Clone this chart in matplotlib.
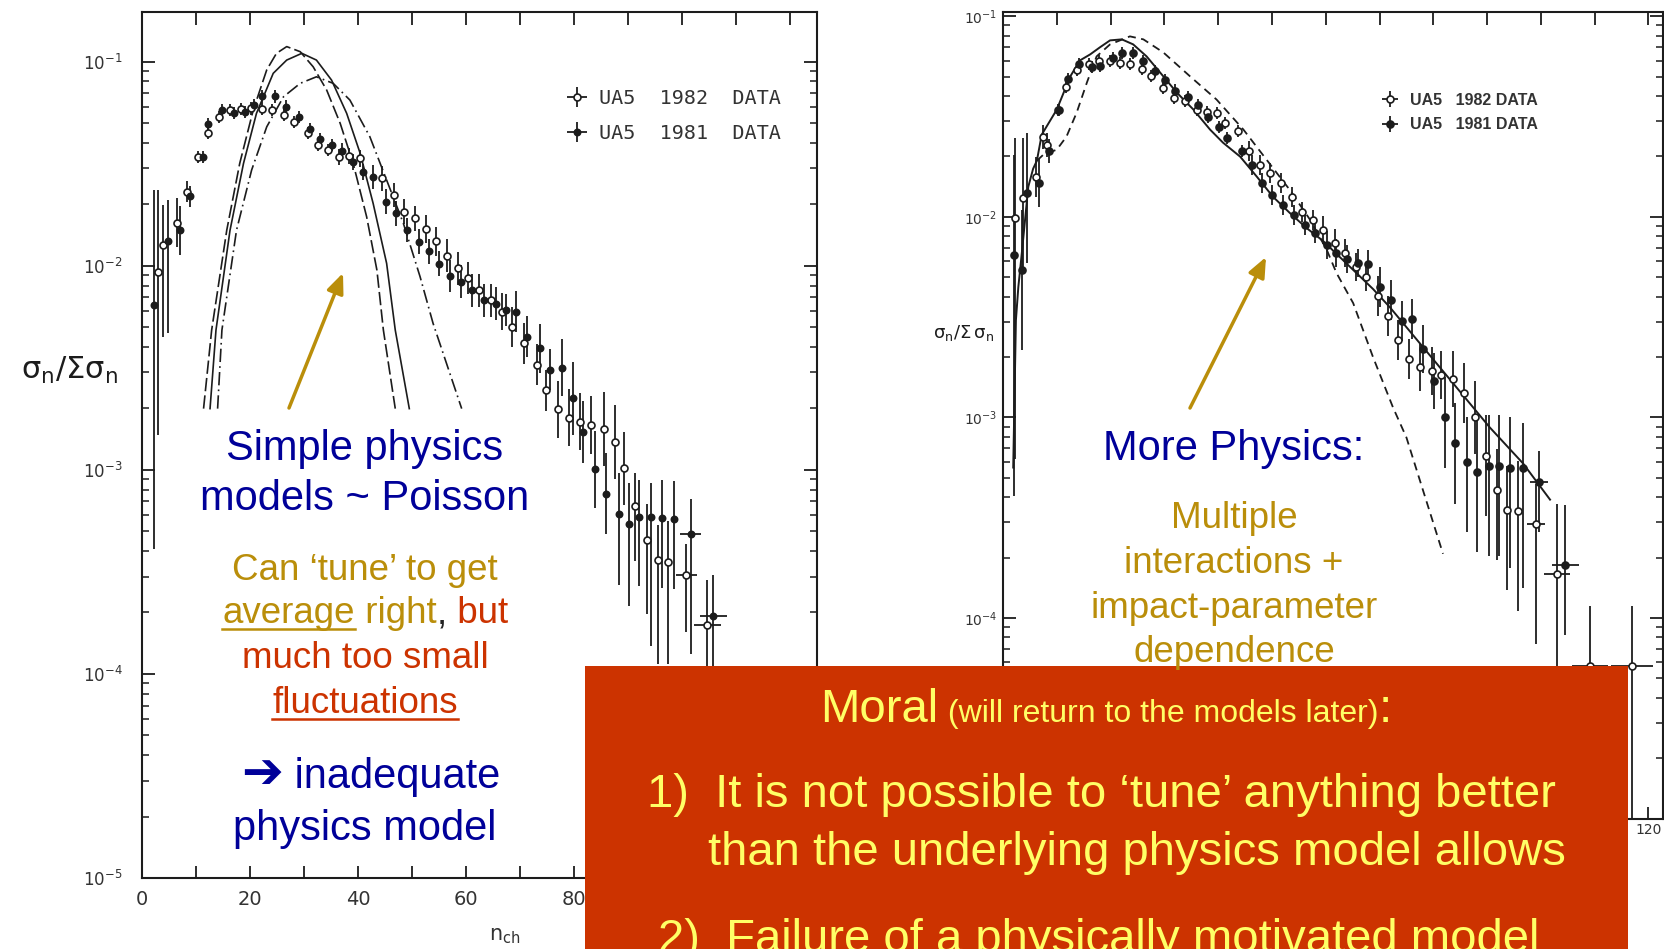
import numpy as np
import matplotlib
matplotlib.use("Agg")
import matplotlib.pyplot as plt
from matplotlib.patches import Rectangle, FancyArrowPatch
from matplotlib.lines import Line2D
from matplotlib.ticker import FixedLocator, LogLocator, NullFormatter, LogFormatterMathtext

W, H = 1664, 949
SLIDE = ["Liberation Sans", "DejaVu Sans"]
INK = "#1c1c1c"
BLUE, GOLD, RED, YEL, BOX = "#000099", "#BA8E0A", "#CC3300", "#FFFF66", "#CC3300"

X_LABELLED = [0, 20, 40, 60, 80, 100, 120]
X_MINOR = [10, 30, 50, 70, 90, 110]

# ---------------- left panel: UA5 data, values as log10(sigma_n / sum sigma_n) ----------------
L82_N = [2.9, 3.9, 6.4, 8.4, 10.3, 12.2, 14.2, 16.3, 18.4, 20.2, 22.2, 24.1, 26.3, 28.2, 30.7,
         32.5, 34.4, 36.4, 38.3, 40.4, 44.5, 46.6, 48.6, 50.6, 52.5, 54.4, 56.4, 58.6, 60.4, 62.5,
         64.7, 66.6, 68.6, 70.7, 73.1, 74.9, 77.1, 79.1, 81.1, 83.1, 85.5, 87.5, 89.2, 91.3, 93.5,
         95.5, 97.4, 100.8, 104.7]
L82_LOG = [-2.03, -1.90, -1.79, -1.637, -1.466, -1.351, -1.27, -1.237, -1.233, -1.229, -1.23, -1.237,
           -1.26, -1.294, -1.351, -1.408, -1.433, -1.466, -1.462, -1.474, -1.572, -1.653, -1.735,
           -1.768, -1.82, -1.88, -1.95, -2.013, -2.06, -2.12, -2.17, -2.225, -2.30, -2.38, -2.484,
           -2.61, -2.704, -2.745, -2.765, -2.78, -2.80, -2.863, -2.993, -3.177, -3.346, -3.44,
           -3.451, -3.514, -3.761]
L82_UP = [0.40, 0.20, 0.12, 0.05, 0.03, 0.03, 0.03, 0.03, 0.03, 0.03, 0.03, 0.03, 0.03, 0.03, 0.03,
          0.03, 0.03, 0.04, 0.04, 0.04, 0.06, 0.06, 0.06, 0.06, 0.07, 0.07, 0.08, 0.08, 0.08, 0.08,
          0.08, 0.09, 0.10, 0.10, 0.10, 0.10, 0.14, 0.14, 0.14, 0.14, 0.18, 0.18, 0.18, 0.16, 0.18,
          0.17, 0.20, 0.15, 0.22]
L82_DN = [0.80, 0.45, 0.12, 0.05, 0.03, 0.03, 0.03, 0.03, 0.03, 0.03, 0.03, 0.03, 0.03, 0.03, 0.03,
          0.03, 0.03, 0.04, 0.04, 0.04, 0.06, 0.06, 0.06, 0.06, 0.07, 0.07, 0.08, 0.08, 0.08, 0.08,
          0.08, 0.09, 0.10, 0.10, 0.10, 0.10, 0.14, 0.14, 0.14, 0.14, 0.18, 0.18, 0.18, 0.27, 0.36,
          0.51, 0.50, 0.28, 0.50]
L82_XERR = [0, 0, 0, 0, 0, 0, 0, 0, 0, 0, 0, 0, 0, 0, 0, 0, 0, 0, 0, 0, 0, 0, 0, 0, 0, 0, 0, 0, 0, 0,
            0, 0, 0, 0, 0, 0, 0, 0, 0, 0, 0, 0, 0, 0, 0, 0, 0, 1.9, 2.5]

L81_N = [2.3, 4.9, 7.0, 8.8, 11.3, 12.3, 14.8, 17.1, 19.0, 20.8, 22.3, 24.6, 26.6, 29.1, 31.1, 32.9,
         35.1, 37.1, 39.0, 40.9, 42.7, 45.2, 47.0, 49.1, 51.3, 53.1, 55.0, 57.0, 59.1, 61.1, 63.3,
         65.6, 67.5, 69.2, 71.3, 73.7, 75.6, 77.7, 79.8, 81.7, 83.9, 85.9, 88.3, 90.1, 92.1, 94.2,
         96.3, 98.5, 101.6, 105.8]
L81_LOG = [-2.19, -1.88, -1.825, -1.66, -1.466, -1.305, -1.237, -1.253, -1.245, -1.212, -1.17, -1.17,
           -1.22, -1.27, -1.33, -1.38, -1.41, -1.44, -1.49, -1.54, -1.564, -1.686, -1.743, -1.825,
           -1.882, -1.93, -1.99, -2.05, -2.078, -2.12, -2.17, -2.185, -2.217, -2.225, -2.348, -2.405,
           -2.51, -2.50, -2.65, -2.814, -2.998, -3.116, -3.214, -3.266, -3.23, -3.233, -3.238, -3.243,
           -3.312, -3.715]
L81_UP = [0.56, 0.20, 0.12, 0.05, 0.03, 0.03, 0.03, 0.03, 0.03, 0.03, 0.03, 0.03, 0.03, 0.03, 0.03,
          0.03, 0.03, 0.04, 0.04, 0.04, 0.06, 0.06, 0.06, 0.06, 0.06, 0.06, 0.06, 0.08, 0.08, 0.08,
          0.08, 0.08, 0.08, 0.10, 0.10, 0.12, 0.10, 0.14, 0.18, 0.15, 0.19, 0.20, 0.20, 0.20, 0.18,
          0.17, 0.19, 0.19, 0.17, 0.20]
L81_DN = [1.20, 0.45, 0.12, 0.05, 0.03, 0.03, 0.03, 0.03, 0.03, 0.03, 0.03, 0.03, 0.03, 0.03, 0.03,
          0.03, 0.03, 0.04, 0.04, 0.04, 0.06, 0.06, 0.06, 0.06, 0.06, 0.06, 0.06, 0.08, 0.08, 0.08,
          0.08, 0.08, 0.08, 0.10, 0.10, 0.12, 0.10, 0.14, 0.18, 0.15, 0.19, 0.20, 0.35, 0.40, 0.34,
          0.63, 0.34, 0.34, 0.59, 0.60]
L81_XERR = [0, 0, 0, 0, 0, 0, 0, 0, 0, 0, 0, 0, 0, 0, 0, 0, 0, 0, 0, 0, 0, 0, 0, 0, 0, 0, 0, 0, 0, 0,
            0, 0, 0, 0, 0, 0, 0, 0, 0, 0, 0, 0, 0, 0, 0, 0, 0, 0, 1.9, 2.5]

# Poisson-like model curves (cut off where the slide text begins)
LDASH_N = [11.4, 12.9, 15.7, 18.1, 20.6, 23.1, 24.9, 26.8, 29.3, 31.7, 34.2, 36.7, 39.1, 41.6, 43.5, 44.7, 46.9]
LDASH_LOG = [-2.70, -2.315, -1.825, -1.498, -1.237, -1.04, -0.959, -0.926, -0.951, -1.025, -1.139,
             -1.302, -1.498, -1.76, -2.021, -2.315, -2.70]
LSOLID_N = [12.6, 13.7, 16.3, 18.8, 21.2, 24.3, 26.8, 29.6, 32.3, 35.1, 37.9, 40.4, 42.8, 45.3, 46.9, 49.5]
LSOLID_LOG = [-2.70, -2.315, -1.826, -1.498, -1.253, -1.057, -0.992, -0.959, -0.992, -1.09, -1.253,
              -1.449, -1.694, -1.988, -2.315, -2.70]
LDD_N = [14.0, 14.8, 17.5, 20.3, 23.1, 26.2, 29.3, 32.3, 35.4, 38.5, 42.2, 45.3, 48.4, 51.5, 53.9, 59.2]
LDD_LOG = [-2.70, -2.315, -1.826, -1.531, -1.319, -1.172, -1.106, -1.074, -1.106, -1.188, -1.368,
           -1.58, -1.792, -2.054, -2.282, -2.70]

# ---------------- right panel ----------------
R82_N = [2.23, 3.78, 6.13, 7.37, 8.1, 10.3, 11.8, 13.7, 15.9, 17.9, 19.9, 21.7, 23.6, 25.8, 27.6,
         29.8, 31.7, 33.8, 36.0, 37.9, 39.7, 41.3, 43.7, 45.8, 47.8, 49.6, 51.6, 53.7, 55.5, 57.6,
         59.4, 61.7, 63.6, 65.6, 67.4, 69.7, 71.6, 73.5, 75.5, 77.5, 79.7, 81.5, 83.7, 85.7, 87.7,
         89.8, 91.8, 93.7, 95.8, 99.1, 103.0, 109.1, 116.9]
R82_LOG = [-2.007, -1.907, -1.80, -1.60, -1.64, -1.465, -1.35, -1.27, -1.24, -1.225, -1.225, -1.235,
           -1.24, -1.265, -1.30, -1.355, -1.405, -1.42, -1.465, -1.475, -1.48, -1.53, -1.57, -1.67,
           -1.74, -1.78, -1.83, -1.90, -1.975, -2.015, -2.065, -2.13, -2.18, -2.25, -2.30, -2.395,
           -2.495, -2.615, -2.71, -2.75, -2.77, -2.79, -2.81, -2.88, -3.00, -3.19, -3.36, -3.46,
           -3.465, -3.53, -3.78, -4.24, -4.24]
R82_UP = [0.40, 0.30, 0.10, 0.06, 0.06, 0.03, 0.03, 0.03, 0.03, 0.03, 0.03, 0.03, 0.03, 0.03, 0.03,
          0.03, 0.03, 0.03, 0.03, 0.03, 0.03, 0.03, 0.03, 0.05, 0.05, 0.05, 0.05, 0.05, 0.05, 0.05,
          0.07, 0.07, 0.07, 0.07, 0.07, 0.10, 0.10, 0.10, 0.10, 0.12, 0.12, 0.12, 0.14, 0.15, 0.18,
          0.20, 0.20, 0.22, 0.25, 0.20, 0.35, 0.30, 0.30]
R82_DN = [1.20, 0.35, 0.10, 0.06, 0.06, 0.03, 0.03, 0.03, 0.03, 0.03, 0.03, 0.03, 0.03, 0.03, 0.03,
          0.03, 0.03, 0.03, 0.03, 0.03, 0.03, 0.03, 0.03, 0.05, 0.05, 0.05, 0.05, 0.05, 0.05, 0.05,
          0.07, 0.07, 0.07, 0.07, 0.07, 0.10, 0.10, 0.10, 0.10, 0.12, 0.12, 0.12, 0.14, 0.15, 0.18,
          0.30, 0.35, 0.40, 0.50, 0.60, 0.70, 1.00, 1.00]
R82_XERR = [0, 0, 0, 0, 0, 0, 0, 0, 0, 0, 0, 0, 0, 0, 0, 0, 0, 0, 0, 0, 0, 0, 0, 0, 0, 0, 0, 0, 0, 0,
            0, 0, 0, 0, 0, 0, 0, 0, 0, 0, 0, 0, 0, 0, 0, 0, 0, 0, 0, 1.7, 2.5, 3.4, 3.9]

R81_N = [2.04, 3.47, 4.4, 6.75, 8.6, 10.5, 12.1, 14.2, 16.5, 18.0, 20.4, 22.1, 24.2, 26.1, 28.3,
         30.1, 32.0, 34.4, 36.3, 38.2, 40.2, 41.7, 44.4, 46.2, 48.1, 50.1, 52.0, 54.1, 56.1, 58.0,
         60.2, 62.0, 64.0, 66.0, 67.8, 70.1, 72.2, 74.1, 76.0, 78.0, 80.1, 82.2, 84.0, 86.3, 88.1,
         90.4, 92.2, 94.2, 96.6, 99.6, 104.5]
R81_LOG = [-2.19, -2.265, -1.88, -1.83, -1.67, -1.465, -1.315, -1.24, -1.255, -1.25, -1.21, -1.185,
           -1.185, -1.225, -1.275, -1.32, -1.37, -1.40, -1.44, -1.50, -1.55, -1.605, -1.67, -1.74,
           -1.83, -1.89, -1.94, -1.99, -2.04, -2.08, -2.14, -2.18, -2.21, -2.23, -2.235, -2.35,
           -2.415, -2.52, -2.51, -2.66, -2.82, -3.00, -3.13, -3.22, -3.27, -3.24, -3.24, -3.25,
           -3.25, -3.32, -3.735]
R81_UP = [0.50, 0.30, 0.30, 0.12, 0.06, 0.03, 0.03, 0.03, 0.03, 0.03, 0.03, 0.03, 0.03, 0.03, 0.03,
          0.03, 0.03, 0.03, 0.03, 0.03, 0.03, 0.03, 0.03, 0.05, 0.05, 0.05, 0.05, 0.05, 0.05, 0.05,
          0.07, 0.07, 0.07, 0.07, 0.07, 0.10, 0.10, 0.10, 0.10, 0.12, 0.14, 0.20, 0.20, 0.22, 0.25,
          0.25, 0.25, 0.25, 0.22, 0.15, 0.30]
R81_DN = [1.20, 0.40, 0.35, 0.12, 0.06, 0.03, 0.03, 0.03, 0.03, 0.03, 0.03, 0.03, 0.03, 0.03, 0.03,
          0.03, 0.03, 0.03, 0.03, 0.03, 0.03, 0.03, 0.03, 0.05, 0.05, 0.05, 0.05, 0.05, 0.05, 0.05,
          0.07, 0.07, 0.07, 0.07, 0.07, 0.10, 0.10, 0.10, 0.10, 0.12, 0.14, 0.25, 0.30, 0.35, 0.40,
          0.45, 0.45, 0.50, 0.60, 0.25, 0.35]
R81_XERR = [0, 0, 0, 0, 0, 0, 0, 0, 0, 0, 0, 0, 0, 0, 0, 0, 0, 0, 0, 0, 0, 0, 0, 0, 0, 0, 0, 0, 0, 0,
            0, 0, 0, 0, 0, 0, 0, 0, 0, 0, 0, 0, 0, 0, 0, 0, 0, 0, 0, 1.7, 2.5]

RSOLID_N = [1.9, 2.4, 2.85, 3.5, 4.1, 4.7, 5.6, 6.3, 7.2, 10.0, 12.5, 14.3, 16.2, 18.0, 19.9, 22.1,
            24.2, 26.7, 29.2, 32.3, 35.4, 38.5, 40.9, 44.1, 47.2, 50.2, 53.3, 56.4, 59.5, 62.6, 65.7,
            68.8, 71.9, 78.1, 84.3, 90.5, 96.7, 101.7]
RSOLID_LOG = [-3.25, -2.515, -2.35, -2.18, -2.015, -1.85, -1.76, -1.72, -1.59, -1.465, -1.30, -1.22,
              -1.19, -1.155, -1.12, -1.115, -1.14, -1.20, -1.28, -1.38, -1.465, -1.565, -1.63, -1.70,
              -1.80, -1.90, -1.98, -2.055, -2.12, -2.20, -2.28, -2.36, -2.45, -2.65, -2.85, -3.05,
              -3.23, -3.41]
RDASH_N = [6.3, 7.5, 10.0, 11.8, 13.7, 15.6, 17.4, 19.9, 23.6, 26.1, 29.8, 34.8, 39.7, 44.7, 49.0,
           53.3, 57.1, 60.2, 62.0, 65.1, 68.8, 72.5, 75.0, 78.1, 81.8]
RDASH_LOG = [-1.72, -1.69, -1.665, -1.60, -1.48, -1.33, -1.20, -1.14, -1.10, -1.115, -1.18, -1.30,
             -1.415, -1.565, -1.715, -1.865, -2.015, -2.165, -2.28, -2.43, -2.70, -2.95, -3.10,
             -3.365, -3.68]

fig = plt.figure(figsize=(W / 100, H / 100), dpi=100)
fig.patch.set_facecolor("white")


def fy(y):
    return 1 - y / H


def axes_px(x0, top, x1, bottom):
    return fig.add_axes([x0 / W, 1 - bottom / H, (x1 - x0) / W, (bottom - top) / H])


def frame(ax, xmax, ytop_log, xsize, ysize, xpad, ypad):
    ax.set_yscale("log")
    ax.set_xlim(0, xmax)
    ax.set_ylim(1e-5, 10 ** ytop_log)
    ax.xaxis.set_major_locator(FixedLocator(X_LABELLED))
    ax.xaxis.set_minor_locator(FixedLocator(X_MINOR))
    ax.yaxis.set_major_locator(LogLocator(base=10, numticks=10))
    ax.yaxis.set_major_formatter(LogFormatterMathtext())
    ax.yaxis.set_minor_locator(LogLocator(base=10, subs=np.arange(2, 10), numticks=30))
    ax.yaxis.set_minor_formatter(NullFormatter())
    ax.tick_params(which="both", direction="in", top=True, right=True, color=INK, labelcolor="#333333")
    ax.tick_params(axis="x", which="both", length=9, width=1.3, pad=xpad, labelsize=xsize)
    ax.tick_params(axis="y", which="major", length=9.5, width=1.3, pad=ypad, labelsize=ysize)
    ax.tick_params(axis="y", which="minor", length=5, width=1.1)
    for s in ax.spines.values():
        s.set_linewidth(1.5)
        s.set_color(INK)


def data(ax, n, logv, up, dn, xerr, filled, label, ms):
    v = 10 ** np.asarray(logv)
    yerr = [v - v * 10 ** (-np.asarray(dn)), v * 10 ** np.asarray(up) - v]
    return ax.errorbar(n, v, yerr=yerr, xerr=xerr, fmt="o", ms=ms,
                       mfc=INK if filled else "white", mec=INK, mew=1.2,
                       ecolor=INK, elinewidth=1.3, capsize=0, label=label, zorder=3)


# ---- left panel ----
axL = axes_px(142, 11.7, 817, 878)
frame(axL, 125, -0.755, 14, 12, 8.5, 14)
axL.plot(LDASH_N, 10 ** np.asarray(LDASH_LOG), color=INK, lw=1.2, ls=(0, (8, 2.5)))
axL.plot(LSOLID_N, 10 ** np.asarray(LSOLID_LOG), color=INK, lw=1.2)
axL.plot(LDD_N, 10 ** np.asarray(LDD_LOG), color=INK, lw=1.2, ls=(0, (8, 2.5, 1, 2.5)))
h82 = data(axL, L82_N, L82_LOG, L82_UP, L82_DN, L82_XERR, False, "UA5  1982  DATA", 5)
h81 = data(axL, L81_N, L81_LOG, L81_UP, L81_DN, L81_XERR, True, "UA5  1981  DATA", 4.5)
axL.legend(handles=[h82, h81], loc="upper left", bbox_to_anchor=(0.630, 0.911),
           frameon=False, handlelength=1.0, handletextpad=0.58, borderpad=0, borderaxespad=0,
           labelspacing=0.79, prop={"family": "DejaVu Sans Mono", "size": 14.5}, labelcolor="#333333")

# ---- right panel ----
axR = axes_px(1003, 12.3, 1663, 818.5)
frame(axR, 122.7, -0.98, 10, 10, 3.5, 4)
axR.plot(RSOLID_N, 10 ** np.asarray(RSOLID_LOG), color=INK, lw=1.4)
axR.plot(RDASH_N, 10 ** np.asarray(RDASH_LOG), color=INK, lw=1.3, ls=(0, (4.5, 3)))
g82 = data(axR, R82_N, R82_LOG, R82_UP, R82_DN, R82_XERR, False, "UA5   1982 DATA", 5)
g81 = data(axR, R81_N, R81_LOG, R81_UP, R81_DN, R81_XERR, True, "UA5   1981 DATA", 5)
axR.legend(handles=[g82, g81], loc="upper left", bbox_to_anchor=(0.574, 0.900),
           frameon=False, handlelength=1.0, handletextpad=0.79, borderpad=0, borderaxespad=0,
           labelspacing=0.58, prop={"family": "Liberation Sans", "size": 11.5, "weight": "bold"},
           labelcolor="#333333")

# tick labels that sit under the slide's red box are not shown in the reference
fig.canvas.draw()
for lab in axL.get_xticklabels():
    if lab.get_text() in ("100", "120"):
        lab.set_visible(False)
for lab in axR.get_xticklabels():
    if lab.get_text() != "120":
        lab.set_visible(False)
for lab in axR.get_yticklabels():
    if "-5" in lab.get_text() or "5}" in lab.get_text():
        lab.set_visible(False)

# axis titles (scanned figure style)
fig.text(69 / W, fy(370), r"$\mathrm{\sigma_n/\Sigma\sigma_n}$", fontsize=22, ha="center", va="center", color=INK)
fig.text(963 / W, fy(333), r"$\mathrm{\sigma_n/\Sigma\,\sigma_n}$", fontsize=13, ha="center", va="center", color=INK)
fig.text(505 / W, fy(936), r"$\mathrm{n_{ch}}$", fontsize=15, ha="center", va="center", color="#333333")

# ---- slide overlays ----
renderer = fig.canvas.get_renderer()


def text_line(x, base, parts, align="center"):
    items = []
    for s, col, size, ul in parts:
        t = fig.text(0, fy(base), s, color=col, fontsize=size, family=SLIDE,
                     ha="left", va="baseline", zorder=7)
        items.append((t, t.get_window_extent(renderer).width, ul, col))
    total = sum(w for _, w, _, _ in items)
    x0 = x - total / 2 if align == "center" else x
    for t, w, ul, col in items:
        t.set_x(x0 / W)
        if ul:
            fig.add_artist(Line2D([x0 / W, (x0 + w) / W], [fy(base + 6)] * 2,
                                  color=col, lw=1.8, zorder=7))
        x0 += w


LC, RC = 365, 1234
text_line(LC, 460, [("Simple physics", BLUE, 30, False)])
text_line(LC, 510, [("models ~ Poisson", BLUE, 30, False)])
text_line(LC, 580, [("Can \u2018tune\u2019 to get", GOLD, 26.5, False)])
text_line(LC, 623, [("average", GOLD, 26.5, True), (" right", GOLD, 26.5, False),
                    (",", "#222222", 26.5, False), (" but", RED, 26.5, False)])
text_line(LC, 668, [("much too small", RED, 26.5, False)])
text_line(LC, 713, [("fluctuations", RED, 26.5, True)])
text_line(LC + 6, 788, [("\u2794", BLUE, 36, False), (" inadequate", BLUE, 30, False)])
text_line(LC, 840, [("physics model", BLUE, 30, False)])

text_line(RC, 460, [("More Physics:", BLUE, 30, False)])
text_line(RC, 528, [("Multiple", GOLD, 26.5, False)])
text_line(RC, 573, [("interactions +", GOLD, 26.5, False)])
text_line(RC, 618, [("impact-parameter", GOLD, 26.5, False)])
text_line(RC, 662, [("dependence", GOLD, 26.5, False)])

for tail, head in [((289, 408), (343, 273)), ((1190, 408), (1266, 257))]:
    fig.add_artist(FancyArrowPatch((tail[0] / W, fy(tail[1])), (head[0] / W, fy(head[1])),
                                   transform=fig.transFigure, arrowstyle="-|>,head_length=0.4,head_width=0.17",
                                   mutation_scale=30, lw=2.5, color=GOLD, shrinkA=0, shrinkB=0, zorder=7))

fig.add_artist(Rectangle((585 / W, 0), (1628 - 585) / W, (949 - 666) / H,
                         transform=fig.transFigure, facecolor=BOX, edgecolor="none", zorder=5))
text_line(1106, 722, [("Moral", YEL, 34, False), (" (will return to the models later)", YEL, 23, False),
                      (":", YEL, 34, False)])
text_line(647, 807, [("1)  It is not possible to \u2018tune\u2019 anything better", YEL, 34, False)], align="left")
text_line(708, 865, [("than the underlying physics model allows", YEL, 34, False)], align="left")
text_line(658, 952, [("2)  Failure of a physically motivated model", YEL, 34, False)], align="left")

fig.savefig("out.png", dpi=100, facecolor="white")
